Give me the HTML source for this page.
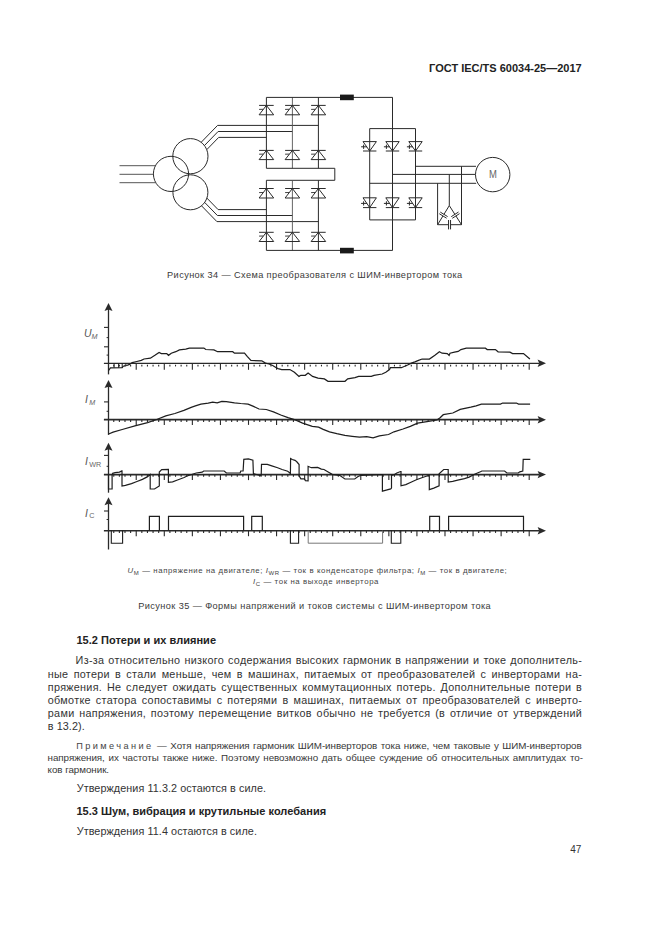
<!DOCTYPE html>
<html><head><meta charset="utf-8">
<style>
html,body{margin:0;padding:0;background:#fff;}
body{width:661px;height:935px;position:relative;overflow:hidden;font-family:"Liberation Sans",sans-serif;color:#333;}
.t,.j{position:absolute;white-space:nowrap;line-height:0;}
.j{text-align:justify;text-align-last:justify;}
.bd{letter-spacing:0.08px;}
.nt{letter-spacing:-0.05px;color:#383838;}
.nt .sp{letter-spacing:2.4px;font-size:9.2px;color:#444;}
.hb{font-weight:bold;letter-spacing:0.03px;color:#222;}
.cap{letter-spacing:0.4px;color:#3a3a3a;}
.leg{letter-spacing:0.595px;color:#444;}
.leg i{font-style:italic;}
.leg sub{font-size:6px;vertical-align:-2px;line-height:0;}
svg{position:absolute;left:0;top:0;}
</style></head><body>
<svg width="661" height="935" viewBox="0 0 661 935"><circle cx="171.0" cy="173.9" r="17.6" fill="none" stroke="#2a2a2a" stroke-width="1.0"/>
<circle cx="190.4" cy="156.2" r="17.6" fill="none" stroke="#2a2a2a" stroke-width="1.0"/>
<circle cx="190.4" cy="192.3" r="17.5" fill="none" stroke="#2a2a2a" stroke-width="1.0"/>
<line x1="119.50" y1="165.70" x2="155.43" y2="165.70" stroke="#555" stroke-width="1.0"/>
<line x1="119.50" y1="174.30" x2="153.40" y2="174.30" stroke="#555" stroke-width="1.0"/>
<line x1="119.50" y1="182.70" x2="155.76" y2="182.70" stroke="#555" stroke-width="1.0"/>
<polyline points="201.15,142.32 217.60,125.40 318.40,125.40" fill="none" stroke="#2a2a2a" stroke-width="1.0" stroke-linejoin="miter"/>
<polyline points="204.41,145.58 218.10,131.50 292.40,131.50" fill="none" stroke="#2a2a2a" stroke-width="1.0" stroke-linejoin="miter"/>
<polyline points="206.73,149.71 218.70,137.40 266.40,137.40" fill="none" stroke="#2a2a2a" stroke-width="1.0" stroke-linejoin="miter"/>
<polyline points="206.90,198.08 218.10,209.60 266.40,209.60" fill="none" stroke="#2a2a2a" stroke-width="1.0" stroke-linejoin="miter"/>
<polyline points="204.66,202.40 217.40,215.50 292.40,215.50" fill="none" stroke="#2a2a2a" stroke-width="1.0" stroke-linejoin="miter"/>
<polyline points="201.53,205.80 216.90,221.60 318.40,221.60" fill="none" stroke="#2a2a2a" stroke-width="1.0" stroke-linejoin="miter"/>
<line x1="266.40" y1="97.40" x2="266.40" y2="168.30" stroke="#2a2a2a" stroke-width="1.0"/>
<line x1="292.40" y1="97.40" x2="292.40" y2="168.30" stroke="#555" stroke-width="0.9"/>
<line x1="318.40" y1="97.40" x2="318.40" y2="168.30" stroke="#2a2a2a" stroke-width="1.0"/>
<line x1="266.40" y1="97.40" x2="392.60" y2="97.40" stroke="#2a2a2a" stroke-width="1.0"/>
<line x1="266.40" y1="168.30" x2="334.80" y2="168.30" stroke="#2a2a2a" stroke-width="1.0"/>
<line x1="334.80" y1="168.30" x2="334.80" y2="180.30" stroke="#2a2a2a" stroke-width="1.0"/>
<line x1="266.40" y1="180.30" x2="334.80" y2="180.30" stroke="#2a2a2a" stroke-width="1.0"/>
<line x1="266.40" y1="180.30" x2="266.40" y2="250.40" stroke="#2a2a2a" stroke-width="1.0"/>
<line x1="292.40" y1="180.30" x2="292.40" y2="250.40" stroke="#555" stroke-width="0.9"/>
<line x1="318.40" y1="180.30" x2="318.40" y2="250.40" stroke="#2a2a2a" stroke-width="1.0"/>
<line x1="266.40" y1="250.40" x2="392.60" y2="250.40" stroke="#2a2a2a" stroke-width="1.0"/>
<line x1="259.10" y1="105.40" x2="273.70" y2="105.40" stroke="#2a2a2a" stroke-width="1.0"/>
<polygon points="266.40,105.40 259.10,114.80 273.70,114.80" fill="none" stroke="#2a2a2a" stroke-width="1.0"/>
<line x1="259.10" y1="109.40" x2="263.20" y2="109.30" stroke="#2a2a2a" stroke-width="0.9"/>
<line x1="259.10" y1="150.40" x2="273.70" y2="150.40" stroke="#2a2a2a" stroke-width="1.0"/>
<polygon points="266.40,150.40 259.10,159.60 273.70,159.60" fill="none" stroke="#2a2a2a" stroke-width="1.0"/>
<line x1="259.10" y1="154.20" x2="263.20" y2="154.10" stroke="#2a2a2a" stroke-width="0.9"/>
<line x1="259.10" y1="188.50" x2="273.70" y2="188.50" stroke="#2a2a2a" stroke-width="1.0"/>
<polygon points="266.40,188.50 259.10,198.00 273.70,198.00" fill="none" stroke="#2a2a2a" stroke-width="1.0"/>
<line x1="259.10" y1="192.60" x2="263.20" y2="192.50" stroke="#2a2a2a" stroke-width="0.9"/>
<line x1="259.10" y1="232.30" x2="273.70" y2="232.30" stroke="#2a2a2a" stroke-width="1.0"/>
<polygon points="266.40,232.30 259.10,241.50 273.70,241.50" fill="none" stroke="#2a2a2a" stroke-width="1.0"/>
<line x1="259.10" y1="236.10" x2="263.20" y2="236.00" stroke="#2a2a2a" stroke-width="0.9"/>
<line x1="285.10" y1="105.40" x2="299.70" y2="105.40" stroke="#2a2a2a" stroke-width="1.0"/>
<polygon points="292.40,105.40 285.10,114.80 299.70,114.80" fill="none" stroke="#2a2a2a" stroke-width="1.0"/>
<line x1="285.10" y1="109.40" x2="289.20" y2="109.30" stroke="#2a2a2a" stroke-width="0.9"/>
<line x1="285.10" y1="150.40" x2="299.70" y2="150.40" stroke="#2a2a2a" stroke-width="1.0"/>
<polygon points="292.40,150.40 285.10,159.60 299.70,159.60" fill="none" stroke="#2a2a2a" stroke-width="1.0"/>
<line x1="285.10" y1="154.20" x2="289.20" y2="154.10" stroke="#2a2a2a" stroke-width="0.9"/>
<line x1="285.10" y1="188.50" x2="299.70" y2="188.50" stroke="#2a2a2a" stroke-width="1.0"/>
<polygon points="292.40,188.50 285.10,198.00 299.70,198.00" fill="none" stroke="#2a2a2a" stroke-width="1.0"/>
<line x1="285.10" y1="192.60" x2="289.20" y2="192.50" stroke="#2a2a2a" stroke-width="0.9"/>
<line x1="285.10" y1="232.30" x2="299.70" y2="232.30" stroke="#2a2a2a" stroke-width="1.0"/>
<polygon points="292.40,232.30 285.10,241.50 299.70,241.50" fill="none" stroke="#2a2a2a" stroke-width="1.0"/>
<line x1="285.10" y1="236.10" x2="289.20" y2="236.00" stroke="#2a2a2a" stroke-width="0.9"/>
<line x1="311.10" y1="105.40" x2="325.70" y2="105.40" stroke="#2a2a2a" stroke-width="1.0"/>
<polygon points="318.40,105.40 311.10,114.80 325.70,114.80" fill="none" stroke="#2a2a2a" stroke-width="1.0"/>
<line x1="311.10" y1="109.40" x2="315.20" y2="109.30" stroke="#2a2a2a" stroke-width="0.9"/>
<line x1="311.10" y1="150.40" x2="325.70" y2="150.40" stroke="#2a2a2a" stroke-width="1.0"/>
<polygon points="318.40,150.40 311.10,159.60 325.70,159.60" fill="none" stroke="#2a2a2a" stroke-width="1.0"/>
<line x1="311.10" y1="154.20" x2="315.20" y2="154.10" stroke="#2a2a2a" stroke-width="0.9"/>
<line x1="311.10" y1="188.50" x2="325.70" y2="188.50" stroke="#2a2a2a" stroke-width="1.0"/>
<polygon points="318.40,188.50 311.10,198.00 325.70,198.00" fill="none" stroke="#2a2a2a" stroke-width="1.0"/>
<line x1="311.10" y1="192.60" x2="315.20" y2="192.50" stroke="#2a2a2a" stroke-width="0.9"/>
<line x1="311.10" y1="232.30" x2="325.70" y2="232.30" stroke="#2a2a2a" stroke-width="1.0"/>
<polygon points="318.40,232.30 311.10,241.50 325.70,241.50" fill="none" stroke="#2a2a2a" stroke-width="1.0"/>
<line x1="311.10" y1="236.10" x2="315.20" y2="236.00" stroke="#2a2a2a" stroke-width="0.9"/>
<rect x="340.0" y="94.6" width="13.8" height="5.6" fill="#1a1a1a"/>
<rect x="340.0" y="247.8" width="13.8" height="5.6" fill="#1a1a1a"/>
<line x1="392.50" y1="97.40" x2="392.50" y2="128.60" stroke="#2a2a2a" stroke-width="1.0"/>
<line x1="369.70" y1="128.60" x2="415.50" y2="128.60" stroke="#2a2a2a" stroke-width="1.0"/>
<line x1="369.70" y1="219.90" x2="415.50" y2="219.90" stroke="#2a2a2a" stroke-width="1.0"/>
<line x1="392.50" y1="219.90" x2="392.50" y2="250.40" stroke="#2a2a2a" stroke-width="1.0"/>
<line x1="369.70" y1="128.60" x2="369.70" y2="219.90" stroke="#2a2a2a" stroke-width="1.0"/>
<line x1="392.50" y1="128.60" x2="392.50" y2="219.90" stroke="#2a2a2a" stroke-width="1.0"/>
<line x1="415.50" y1="128.60" x2="415.50" y2="219.90" stroke="#2a2a2a" stroke-width="1.0"/>
<line x1="363.00" y1="151.00" x2="376.40" y2="151.00" stroke="#2a2a2a" stroke-width="1.0"/>
<polygon points="369.70,151.00 363.00,141.60 376.40,141.60" fill="none" stroke="#2a2a2a" stroke-width="1.0"/>
<line x1="361.10" y1="146.80" x2="367.10" y2="146.80" stroke="#2a2a2a" stroke-width="1.0"/>
<line x1="363.60" y1="144.70" x2="363.60" y2="148.90" stroke="#2a2a2a" stroke-width="1.0"/>
<line x1="363.00" y1="207.60" x2="376.40" y2="207.60" stroke="#2a2a2a" stroke-width="1.0"/>
<polygon points="369.70,207.60 363.00,197.80 376.40,197.80" fill="none" stroke="#2a2a2a" stroke-width="1.0"/>
<line x1="361.10" y1="203.40" x2="367.10" y2="203.40" stroke="#2a2a2a" stroke-width="1.0"/>
<line x1="363.60" y1="201.30" x2="363.60" y2="205.50" stroke="#2a2a2a" stroke-width="1.0"/>
<line x1="385.80" y1="151.00" x2="399.20" y2="151.00" stroke="#2a2a2a" stroke-width="1.0"/>
<polygon points="392.50,151.00 385.80,141.60 399.20,141.60" fill="none" stroke="#2a2a2a" stroke-width="1.0"/>
<line x1="383.90" y1="146.80" x2="389.90" y2="146.80" stroke="#2a2a2a" stroke-width="1.0"/>
<line x1="386.40" y1="144.70" x2="386.40" y2="148.90" stroke="#2a2a2a" stroke-width="1.0"/>
<line x1="385.80" y1="207.60" x2="399.20" y2="207.60" stroke="#2a2a2a" stroke-width="1.0"/>
<polygon points="392.50,207.60 385.80,197.80 399.20,197.80" fill="none" stroke="#2a2a2a" stroke-width="1.0"/>
<line x1="383.90" y1="203.40" x2="389.90" y2="203.40" stroke="#2a2a2a" stroke-width="1.0"/>
<line x1="386.40" y1="201.30" x2="386.40" y2="205.50" stroke="#2a2a2a" stroke-width="1.0"/>
<line x1="408.80" y1="151.00" x2="422.20" y2="151.00" stroke="#2a2a2a" stroke-width="1.0"/>
<polygon points="415.50,151.00 408.80,141.60 422.20,141.60" fill="none" stroke="#2a2a2a" stroke-width="1.0"/>
<line x1="406.90" y1="146.80" x2="412.90" y2="146.80" stroke="#2a2a2a" stroke-width="1.0"/>
<line x1="409.40" y1="144.70" x2="409.40" y2="148.90" stroke="#2a2a2a" stroke-width="1.0"/>
<line x1="408.80" y1="207.60" x2="422.20" y2="207.60" stroke="#2a2a2a" stroke-width="1.0"/>
<polygon points="415.50,207.60 408.80,197.80 422.20,197.80" fill="none" stroke="#2a2a2a" stroke-width="1.0"/>
<line x1="406.90" y1="203.40" x2="412.90" y2="203.40" stroke="#2a2a2a" stroke-width="1.0"/>
<line x1="409.40" y1="201.30" x2="409.40" y2="205.50" stroke="#2a2a2a" stroke-width="1.0"/>
<line x1="415.50" y1="166.30" x2="476.00" y2="166.30" stroke="#2a2a2a" stroke-width="1.0"/>
<line x1="392.50" y1="174.40" x2="475.30" y2="174.40" stroke="#2a2a2a" stroke-width="1.0"/>
<line x1="369.70" y1="183.30" x2="476.20" y2="183.30" stroke="#2a2a2a" stroke-width="1.0"/>
<circle cx="492.7" cy="174.6" r="17.2" fill="none" stroke="#2a2a2a" stroke-width="1.0"/>
<text x="489.0" y="178.2" font-family="Liberation Sans" font-size="10" fill="#666" textLength="7.9" lengthAdjust="spacingAndGlyphs">M</text>
<line x1="437.60" y1="183.30" x2="437.60" y2="224.70" stroke="#2a2a2a" stroke-width="1.0"/>
<line x1="461.50" y1="166.30" x2="461.50" y2="224.70" stroke="#2a2a2a" stroke-width="1.0"/>
<line x1="449.30" y1="174.40" x2="449.30" y2="205.60" stroke="#2a2a2a" stroke-width="1.0"/>
<line x1="449.30" y1="205.60" x2="443.95" y2="214.34" stroke="#2a2a2a" stroke-width="1.0"/>
<line x1="442.95" y1="215.96" x2="437.60" y2="224.70" stroke="#2a2a2a" stroke-width="1.0"/>
<line x1="447.61" y1="216.59" x2="440.28" y2="212.09" stroke="#2a2a2a" stroke-width="1.0"/>
<line x1="446.62" y1="218.21" x2="439.29" y2="213.71" stroke="#2a2a2a" stroke-width="1.0"/>
<line x1="449.30" y1="205.60" x2="454.89" y2="214.35" stroke="#2a2a2a" stroke-width="1.0"/>
<line x1="455.91" y1="215.95" x2="461.50" y2="224.70" stroke="#2a2a2a" stroke-width="1.0"/>
<line x1="458.51" y1="212.03" x2="451.26" y2="216.66" stroke="#2a2a2a" stroke-width="1.0"/>
<line x1="459.54" y1="213.64" x2="452.29" y2="218.27" stroke="#2a2a2a" stroke-width="1.0"/>
<line x1="437.60" y1="224.70" x2="448.55" y2="224.70" stroke="#2a2a2a" stroke-width="1.0"/>
<line x1="450.55" y1="224.70" x2="461.50" y2="224.70" stroke="#2a2a2a" stroke-width="1.0"/>
<line x1="448.55" y1="220.00" x2="448.55" y2="229.40" stroke="#2a2a2a" stroke-width="1.0"/>
<line x1="450.55" y1="220.00" x2="450.55" y2="229.40" stroke="#2a2a2a" stroke-width="1.0"/>
<line x1="108.50" y1="309.00" x2="108.50" y2="374.40" stroke="#2a2a2a" stroke-width="1.3"/>
<polygon points="108.50,303.00 104.50,311.00 108.50,309.60 112.50,311.00" fill="#2a2a2a" stroke="#2a2a2a" stroke-width="0"/>
<line x1="103.90" y1="363.30" x2="539.00" y2="363.30" stroke="#2a2a2a" stroke-width="1.15"/>
<polygon points="546.00,363.30 537.60,359.60 539.20,363.30 537.60,367.00" fill="#2a2a2a" stroke="#2a2a2a" stroke-width="0"/>
<line x1="113.76" y1="364.80" x2="113.76" y2="366.40" stroke="#2a2a2a" stroke-width="1.1"/>
<line x1="119.38" y1="364.80" x2="119.38" y2="366.40" stroke="#2a2a2a" stroke-width="1.1"/>
<line x1="124.99" y1="364.80" x2="124.99" y2="366.40" stroke="#2a2a2a" stroke-width="1.1"/>
<line x1="130.61" y1="364.80" x2="130.61" y2="366.40" stroke="#2a2a2a" stroke-width="1.1"/>
<line x1="136.22" y1="363.30" x2="136.22" y2="369.80" stroke="#2a2a2a" stroke-width="1.1"/>
<line x1="141.83" y1="364.80" x2="141.83" y2="366.40" stroke="#2a2a2a" stroke-width="1.1"/>
<line x1="147.45" y1="364.80" x2="147.45" y2="366.40" stroke="#2a2a2a" stroke-width="1.1"/>
<line x1="153.06" y1="364.80" x2="153.06" y2="366.40" stroke="#2a2a2a" stroke-width="1.1"/>
<line x1="158.68" y1="364.80" x2="158.68" y2="366.40" stroke="#2a2a2a" stroke-width="1.1"/>
<line x1="164.29" y1="363.30" x2="164.29" y2="369.80" stroke="#2a2a2a" stroke-width="1.1"/>
<line x1="169.90" y1="364.80" x2="169.90" y2="366.40" stroke="#2a2a2a" stroke-width="1.1"/>
<line x1="175.52" y1="364.80" x2="175.52" y2="366.40" stroke="#2a2a2a" stroke-width="1.1"/>
<line x1="181.13" y1="364.80" x2="181.13" y2="366.40" stroke="#2a2a2a" stroke-width="1.1"/>
<line x1="186.75" y1="364.80" x2="186.75" y2="366.40" stroke="#2a2a2a" stroke-width="1.1"/>
<line x1="192.36" y1="363.30" x2="192.36" y2="369.80" stroke="#2a2a2a" stroke-width="1.1"/>
<line x1="197.97" y1="364.80" x2="197.97" y2="366.40" stroke="#2a2a2a" stroke-width="1.1"/>
<line x1="203.59" y1="364.80" x2="203.59" y2="366.40" stroke="#2a2a2a" stroke-width="1.1"/>
<line x1="209.20" y1="364.80" x2="209.20" y2="366.40" stroke="#2a2a2a" stroke-width="1.1"/>
<line x1="214.82" y1="364.80" x2="214.82" y2="366.40" stroke="#2a2a2a" stroke-width="1.1"/>
<line x1="220.43" y1="363.30" x2="220.43" y2="369.80" stroke="#2a2a2a" stroke-width="1.1"/>
<line x1="226.04" y1="364.80" x2="226.04" y2="366.40" stroke="#2a2a2a" stroke-width="1.1"/>
<line x1="231.66" y1="364.80" x2="231.66" y2="366.40" stroke="#2a2a2a" stroke-width="1.1"/>
<line x1="237.27" y1="364.80" x2="237.27" y2="366.40" stroke="#2a2a2a" stroke-width="1.1"/>
<line x1="242.89" y1="364.80" x2="242.89" y2="366.40" stroke="#2a2a2a" stroke-width="1.1"/>
<line x1="248.50" y1="363.30" x2="248.50" y2="369.80" stroke="#2a2a2a" stroke-width="1.1"/>
<line x1="254.11" y1="364.80" x2="254.11" y2="366.40" stroke="#2a2a2a" stroke-width="1.1"/>
<line x1="259.73" y1="364.80" x2="259.73" y2="366.40" stroke="#2a2a2a" stroke-width="1.1"/>
<line x1="265.34" y1="364.80" x2="265.34" y2="366.40" stroke="#2a2a2a" stroke-width="1.1"/>
<line x1="270.96" y1="364.80" x2="270.96" y2="366.40" stroke="#2a2a2a" stroke-width="1.1"/>
<line x1="276.57" y1="363.30" x2="276.57" y2="369.80" stroke="#2a2a2a" stroke-width="1.1"/>
<line x1="282.18" y1="364.80" x2="282.18" y2="366.40" stroke="#2a2a2a" stroke-width="1.1"/>
<line x1="287.80" y1="364.80" x2="287.80" y2="366.40" stroke="#2a2a2a" stroke-width="1.1"/>
<line x1="293.41" y1="364.80" x2="293.41" y2="366.40" stroke="#2a2a2a" stroke-width="1.1"/>
<line x1="299.03" y1="364.80" x2="299.03" y2="366.40" stroke="#2a2a2a" stroke-width="1.1"/>
<line x1="304.64" y1="363.30" x2="304.64" y2="369.80" stroke="#2a2a2a" stroke-width="1.1"/>
<line x1="310.25" y1="364.80" x2="310.25" y2="366.40" stroke="#2a2a2a" stroke-width="1.1"/>
<line x1="315.87" y1="364.80" x2="315.87" y2="366.40" stroke="#2a2a2a" stroke-width="1.1"/>
<line x1="321.48" y1="364.80" x2="321.48" y2="366.40" stroke="#2a2a2a" stroke-width="1.1"/>
<line x1="327.10" y1="364.80" x2="327.10" y2="366.40" stroke="#2a2a2a" stroke-width="1.1"/>
<line x1="332.71" y1="363.30" x2="332.71" y2="369.80" stroke="#2a2a2a" stroke-width="1.1"/>
<line x1="338.32" y1="364.80" x2="338.32" y2="366.40" stroke="#2a2a2a" stroke-width="1.1"/>
<line x1="343.94" y1="364.80" x2="343.94" y2="366.40" stroke="#2a2a2a" stroke-width="1.1"/>
<line x1="349.55" y1="364.80" x2="349.55" y2="366.40" stroke="#2a2a2a" stroke-width="1.1"/>
<line x1="355.17" y1="364.80" x2="355.17" y2="366.40" stroke="#2a2a2a" stroke-width="1.1"/>
<line x1="360.78" y1="363.30" x2="360.78" y2="369.80" stroke="#2a2a2a" stroke-width="1.1"/>
<line x1="366.39" y1="364.80" x2="366.39" y2="366.40" stroke="#2a2a2a" stroke-width="1.1"/>
<line x1="372.01" y1="364.80" x2="372.01" y2="366.40" stroke="#2a2a2a" stroke-width="1.1"/>
<line x1="377.62" y1="364.80" x2="377.62" y2="366.40" stroke="#2a2a2a" stroke-width="1.1"/>
<line x1="383.24" y1="364.80" x2="383.24" y2="366.40" stroke="#2a2a2a" stroke-width="1.1"/>
<line x1="388.85" y1="363.30" x2="388.85" y2="369.80" stroke="#2a2a2a" stroke-width="1.1"/>
<line x1="394.46" y1="364.80" x2="394.46" y2="366.40" stroke="#2a2a2a" stroke-width="1.1"/>
<line x1="400.08" y1="364.80" x2="400.08" y2="366.40" stroke="#2a2a2a" stroke-width="1.1"/>
<line x1="405.69" y1="364.80" x2="405.69" y2="366.40" stroke="#2a2a2a" stroke-width="1.1"/>
<line x1="411.31" y1="364.80" x2="411.31" y2="366.40" stroke="#2a2a2a" stroke-width="1.1"/>
<line x1="416.92" y1="363.30" x2="416.92" y2="369.80" stroke="#2a2a2a" stroke-width="1.1"/>
<line x1="422.53" y1="364.80" x2="422.53" y2="366.40" stroke="#2a2a2a" stroke-width="1.1"/>
<line x1="428.15" y1="364.80" x2="428.15" y2="366.40" stroke="#2a2a2a" stroke-width="1.1"/>
<line x1="433.76" y1="364.80" x2="433.76" y2="366.40" stroke="#2a2a2a" stroke-width="1.1"/>
<line x1="439.38" y1="364.80" x2="439.38" y2="366.40" stroke="#2a2a2a" stroke-width="1.1"/>
<line x1="444.99" y1="363.30" x2="444.99" y2="369.80" stroke="#2a2a2a" stroke-width="1.1"/>
<line x1="450.60" y1="364.80" x2="450.60" y2="366.40" stroke="#2a2a2a" stroke-width="1.1"/>
<line x1="456.22" y1="364.80" x2="456.22" y2="366.40" stroke="#2a2a2a" stroke-width="1.1"/>
<line x1="461.83" y1="364.80" x2="461.83" y2="366.40" stroke="#2a2a2a" stroke-width="1.1"/>
<line x1="467.45" y1="364.80" x2="467.45" y2="366.40" stroke="#2a2a2a" stroke-width="1.1"/>
<line x1="473.06" y1="363.30" x2="473.06" y2="369.80" stroke="#2a2a2a" stroke-width="1.1"/>
<line x1="478.67" y1="364.80" x2="478.67" y2="366.40" stroke="#2a2a2a" stroke-width="1.1"/>
<line x1="484.29" y1="364.80" x2="484.29" y2="366.40" stroke="#2a2a2a" stroke-width="1.1"/>
<line x1="489.90" y1="364.80" x2="489.90" y2="366.40" stroke="#2a2a2a" stroke-width="1.1"/>
<line x1="495.52" y1="364.80" x2="495.52" y2="366.40" stroke="#2a2a2a" stroke-width="1.1"/>
<line x1="501.13" y1="363.30" x2="501.13" y2="369.80" stroke="#2a2a2a" stroke-width="1.1"/>
<line x1="506.74" y1="364.80" x2="506.74" y2="366.40" stroke="#2a2a2a" stroke-width="1.1"/>
<line x1="512.36" y1="364.80" x2="512.36" y2="366.40" stroke="#2a2a2a" stroke-width="1.1"/>
<line x1="517.97" y1="364.80" x2="517.97" y2="366.40" stroke="#2a2a2a" stroke-width="1.1"/>
<line x1="523.59" y1="364.80" x2="523.59" y2="366.40" stroke="#2a2a2a" stroke-width="1.1"/>
<line x1="529.20" y1="363.30" x2="529.20" y2="369.80" stroke="#2a2a2a" stroke-width="1.1"/>
<line x1="104.00" y1="327.40" x2="108.50" y2="327.40" stroke="#2a2a2a" stroke-width="1.1"/>
<line x1="104.00" y1="346.80" x2="108.50" y2="346.80" stroke="#2a2a2a" stroke-width="1.1"/>
<line x1="106.60" y1="337.60" x2="108.50" y2="337.60" stroke="#2a2a2a" stroke-width="1.0"/>
<line x1="106.60" y1="355.10" x2="108.50" y2="355.10" stroke="#2a2a2a" stroke-width="1.0"/>
<line x1="108.50" y1="386.10" x2="108.50" y2="434.90" stroke="#2a2a2a" stroke-width="1.3"/>
<polygon points="108.50,380.10 104.50,388.10 108.50,386.70 112.50,388.10" fill="#2a2a2a" stroke="#2a2a2a" stroke-width="0"/>
<line x1="103.90" y1="419.70" x2="539.00" y2="419.70" stroke="#2a2a2a" stroke-width="1.7"/>
<polygon points="546.00,419.70 537.60,416.00 539.20,419.70 537.60,423.40" fill="#2a2a2a" stroke="#2a2a2a" stroke-width="0"/>
<line x1="113.76" y1="419.70" x2="113.76" y2="421.90" stroke="#2a2a2a" stroke-width="1.1"/>
<line x1="119.38" y1="419.70" x2="119.38" y2="421.90" stroke="#2a2a2a" stroke-width="1.1"/>
<line x1="124.99" y1="419.70" x2="124.99" y2="421.90" stroke="#2a2a2a" stroke-width="1.1"/>
<line x1="130.61" y1="419.70" x2="130.61" y2="421.90" stroke="#2a2a2a" stroke-width="1.1"/>
<line x1="136.22" y1="419.70" x2="136.22" y2="424.90" stroke="#2a2a2a" stroke-width="1.1"/>
<line x1="141.83" y1="419.70" x2="141.83" y2="421.90" stroke="#2a2a2a" stroke-width="1.1"/>
<line x1="147.45" y1="419.70" x2="147.45" y2="421.90" stroke="#2a2a2a" stroke-width="1.1"/>
<line x1="153.06" y1="419.70" x2="153.06" y2="421.90" stroke="#2a2a2a" stroke-width="1.1"/>
<line x1="158.68" y1="419.70" x2="158.68" y2="421.90" stroke="#2a2a2a" stroke-width="1.1"/>
<line x1="164.29" y1="419.70" x2="164.29" y2="424.90" stroke="#2a2a2a" stroke-width="1.1"/>
<line x1="169.90" y1="419.70" x2="169.90" y2="421.90" stroke="#2a2a2a" stroke-width="1.1"/>
<line x1="175.52" y1="419.70" x2="175.52" y2="421.90" stroke="#2a2a2a" stroke-width="1.1"/>
<line x1="181.13" y1="419.70" x2="181.13" y2="421.90" stroke="#2a2a2a" stroke-width="1.1"/>
<line x1="186.75" y1="419.70" x2="186.75" y2="421.90" stroke="#2a2a2a" stroke-width="1.1"/>
<line x1="192.36" y1="419.70" x2="192.36" y2="424.90" stroke="#2a2a2a" stroke-width="1.1"/>
<line x1="197.97" y1="419.70" x2="197.97" y2="421.90" stroke="#2a2a2a" stroke-width="1.1"/>
<line x1="203.59" y1="419.70" x2="203.59" y2="421.90" stroke="#2a2a2a" stroke-width="1.1"/>
<line x1="209.20" y1="419.70" x2="209.20" y2="421.90" stroke="#2a2a2a" stroke-width="1.1"/>
<line x1="214.82" y1="419.70" x2="214.82" y2="421.90" stroke="#2a2a2a" stroke-width="1.1"/>
<line x1="220.43" y1="419.70" x2="220.43" y2="424.90" stroke="#2a2a2a" stroke-width="1.1"/>
<line x1="226.04" y1="419.70" x2="226.04" y2="421.90" stroke="#2a2a2a" stroke-width="1.1"/>
<line x1="231.66" y1="419.70" x2="231.66" y2="421.90" stroke="#2a2a2a" stroke-width="1.1"/>
<line x1="237.27" y1="419.70" x2="237.27" y2="421.90" stroke="#2a2a2a" stroke-width="1.1"/>
<line x1="242.89" y1="419.70" x2="242.89" y2="421.90" stroke="#2a2a2a" stroke-width="1.1"/>
<line x1="248.50" y1="419.70" x2="248.50" y2="424.90" stroke="#2a2a2a" stroke-width="1.1"/>
<line x1="254.11" y1="419.70" x2="254.11" y2="421.90" stroke="#2a2a2a" stroke-width="1.1"/>
<line x1="259.73" y1="419.70" x2="259.73" y2="421.90" stroke="#2a2a2a" stroke-width="1.1"/>
<line x1="265.34" y1="419.70" x2="265.34" y2="421.90" stroke="#2a2a2a" stroke-width="1.1"/>
<line x1="270.96" y1="419.70" x2="270.96" y2="421.90" stroke="#2a2a2a" stroke-width="1.1"/>
<line x1="276.57" y1="419.70" x2="276.57" y2="424.90" stroke="#2a2a2a" stroke-width="1.1"/>
<line x1="282.18" y1="419.70" x2="282.18" y2="421.90" stroke="#2a2a2a" stroke-width="1.1"/>
<line x1="287.80" y1="419.70" x2="287.80" y2="421.90" stroke="#2a2a2a" stroke-width="1.1"/>
<line x1="293.41" y1="419.70" x2="293.41" y2="421.90" stroke="#2a2a2a" stroke-width="1.1"/>
<line x1="299.03" y1="419.70" x2="299.03" y2="421.90" stroke="#2a2a2a" stroke-width="1.1"/>
<line x1="304.64" y1="419.70" x2="304.64" y2="424.90" stroke="#2a2a2a" stroke-width="1.1"/>
<line x1="310.25" y1="419.70" x2="310.25" y2="421.90" stroke="#2a2a2a" stroke-width="1.1"/>
<line x1="315.87" y1="419.70" x2="315.87" y2="421.90" stroke="#2a2a2a" stroke-width="1.1"/>
<line x1="321.48" y1="419.70" x2="321.48" y2="421.90" stroke="#2a2a2a" stroke-width="1.1"/>
<line x1="327.10" y1="419.70" x2="327.10" y2="421.90" stroke="#2a2a2a" stroke-width="1.1"/>
<line x1="332.71" y1="419.70" x2="332.71" y2="424.90" stroke="#2a2a2a" stroke-width="1.1"/>
<line x1="338.32" y1="419.70" x2="338.32" y2="421.90" stroke="#2a2a2a" stroke-width="1.1"/>
<line x1="343.94" y1="419.70" x2="343.94" y2="421.90" stroke="#2a2a2a" stroke-width="1.1"/>
<line x1="349.55" y1="419.70" x2="349.55" y2="421.90" stroke="#2a2a2a" stroke-width="1.1"/>
<line x1="355.17" y1="419.70" x2="355.17" y2="421.90" stroke="#2a2a2a" stroke-width="1.1"/>
<line x1="360.78" y1="419.70" x2="360.78" y2="424.90" stroke="#2a2a2a" stroke-width="1.1"/>
<line x1="366.39" y1="419.70" x2="366.39" y2="421.90" stroke="#2a2a2a" stroke-width="1.1"/>
<line x1="372.01" y1="419.70" x2="372.01" y2="421.90" stroke="#2a2a2a" stroke-width="1.1"/>
<line x1="377.62" y1="419.70" x2="377.62" y2="421.90" stroke="#2a2a2a" stroke-width="1.1"/>
<line x1="383.24" y1="419.70" x2="383.24" y2="421.90" stroke="#2a2a2a" stroke-width="1.1"/>
<line x1="388.85" y1="419.70" x2="388.85" y2="424.90" stroke="#2a2a2a" stroke-width="1.1"/>
<line x1="394.46" y1="419.70" x2="394.46" y2="421.90" stroke="#2a2a2a" stroke-width="1.1"/>
<line x1="400.08" y1="419.70" x2="400.08" y2="421.90" stroke="#2a2a2a" stroke-width="1.1"/>
<line x1="405.69" y1="419.70" x2="405.69" y2="421.90" stroke="#2a2a2a" stroke-width="1.1"/>
<line x1="411.31" y1="419.70" x2="411.31" y2="421.90" stroke="#2a2a2a" stroke-width="1.1"/>
<line x1="416.92" y1="419.70" x2="416.92" y2="424.90" stroke="#2a2a2a" stroke-width="1.1"/>
<line x1="422.53" y1="419.70" x2="422.53" y2="421.90" stroke="#2a2a2a" stroke-width="1.1"/>
<line x1="428.15" y1="419.70" x2="428.15" y2="421.90" stroke="#2a2a2a" stroke-width="1.1"/>
<line x1="433.76" y1="419.70" x2="433.76" y2="421.90" stroke="#2a2a2a" stroke-width="1.1"/>
<line x1="439.38" y1="419.70" x2="439.38" y2="421.90" stroke="#2a2a2a" stroke-width="1.1"/>
<line x1="444.99" y1="419.70" x2="444.99" y2="424.90" stroke="#2a2a2a" stroke-width="1.1"/>
<line x1="450.60" y1="419.70" x2="450.60" y2="421.90" stroke="#2a2a2a" stroke-width="1.1"/>
<line x1="456.22" y1="419.70" x2="456.22" y2="421.90" stroke="#2a2a2a" stroke-width="1.1"/>
<line x1="461.83" y1="419.70" x2="461.83" y2="421.90" stroke="#2a2a2a" stroke-width="1.1"/>
<line x1="467.45" y1="419.70" x2="467.45" y2="421.90" stroke="#2a2a2a" stroke-width="1.1"/>
<line x1="473.06" y1="419.70" x2="473.06" y2="424.90" stroke="#2a2a2a" stroke-width="1.1"/>
<line x1="478.67" y1="419.70" x2="478.67" y2="421.90" stroke="#2a2a2a" stroke-width="1.1"/>
<line x1="484.29" y1="419.70" x2="484.29" y2="421.90" stroke="#2a2a2a" stroke-width="1.1"/>
<line x1="489.90" y1="419.70" x2="489.90" y2="421.90" stroke="#2a2a2a" stroke-width="1.1"/>
<line x1="495.52" y1="419.70" x2="495.52" y2="421.90" stroke="#2a2a2a" stroke-width="1.1"/>
<line x1="501.13" y1="419.70" x2="501.13" y2="424.90" stroke="#2a2a2a" stroke-width="1.1"/>
<line x1="506.74" y1="419.70" x2="506.74" y2="421.90" stroke="#2a2a2a" stroke-width="1.1"/>
<line x1="512.36" y1="419.70" x2="512.36" y2="421.90" stroke="#2a2a2a" stroke-width="1.1"/>
<line x1="517.97" y1="419.70" x2="517.97" y2="421.90" stroke="#2a2a2a" stroke-width="1.1"/>
<line x1="523.59" y1="419.70" x2="523.59" y2="421.90" stroke="#2a2a2a" stroke-width="1.1"/>
<line x1="529.20" y1="419.70" x2="529.20" y2="424.90" stroke="#2a2a2a" stroke-width="1.1"/>
<line x1="104.00" y1="401.90" x2="108.50" y2="401.90" stroke="#2a2a2a" stroke-width="1.1"/>
<line x1="106.60" y1="411.30" x2="108.50" y2="411.30" stroke="#2a2a2a" stroke-width="1.0"/>
<line x1="108.50" y1="448.70" x2="108.50" y2="492.70" stroke="#2a2a2a" stroke-width="1.3"/>
<polygon points="108.50,442.70 104.50,450.70 108.50,449.30 112.50,450.70" fill="#2a2a2a" stroke="#2a2a2a" stroke-width="0"/>
<line x1="103.90" y1="474.60" x2="539.00" y2="474.60" stroke="#2a2a2a" stroke-width="1.6"/>
<polygon points="546.00,474.60 537.60,470.90 539.20,474.60 537.60,478.30" fill="#2a2a2a" stroke="#2a2a2a" stroke-width="0"/>
<line x1="113.76" y1="474.60" x2="113.76" y2="476.80" stroke="#2a2a2a" stroke-width="1.1"/>
<line x1="119.38" y1="474.60" x2="119.38" y2="476.80" stroke="#2a2a2a" stroke-width="1.1"/>
<line x1="124.99" y1="474.60" x2="124.99" y2="476.80" stroke="#2a2a2a" stroke-width="1.1"/>
<line x1="130.61" y1="474.60" x2="130.61" y2="476.80" stroke="#2a2a2a" stroke-width="1.1"/>
<line x1="136.22" y1="474.60" x2="136.22" y2="480.10" stroke="#2a2a2a" stroke-width="1.1"/>
<line x1="141.83" y1="474.60" x2="141.83" y2="476.80" stroke="#2a2a2a" stroke-width="1.1"/>
<line x1="147.45" y1="474.60" x2="147.45" y2="476.80" stroke="#2a2a2a" stroke-width="1.1"/>
<line x1="153.06" y1="474.60" x2="153.06" y2="476.80" stroke="#2a2a2a" stroke-width="1.1"/>
<line x1="158.68" y1="474.60" x2="158.68" y2="476.80" stroke="#2a2a2a" stroke-width="1.1"/>
<line x1="164.29" y1="474.60" x2="164.29" y2="480.10" stroke="#2a2a2a" stroke-width="1.1"/>
<line x1="169.90" y1="474.60" x2="169.90" y2="476.80" stroke="#2a2a2a" stroke-width="1.1"/>
<line x1="175.52" y1="474.60" x2="175.52" y2="476.80" stroke="#2a2a2a" stroke-width="1.1"/>
<line x1="181.13" y1="474.60" x2="181.13" y2="476.80" stroke="#2a2a2a" stroke-width="1.1"/>
<line x1="186.75" y1="474.60" x2="186.75" y2="476.80" stroke="#2a2a2a" stroke-width="1.1"/>
<line x1="192.36" y1="474.60" x2="192.36" y2="480.10" stroke="#2a2a2a" stroke-width="1.1"/>
<line x1="197.97" y1="474.60" x2="197.97" y2="476.80" stroke="#2a2a2a" stroke-width="1.1"/>
<line x1="203.59" y1="474.60" x2="203.59" y2="476.80" stroke="#2a2a2a" stroke-width="1.1"/>
<line x1="209.20" y1="474.60" x2="209.20" y2="476.80" stroke="#2a2a2a" stroke-width="1.1"/>
<line x1="214.82" y1="474.60" x2="214.82" y2="476.80" stroke="#2a2a2a" stroke-width="1.1"/>
<line x1="220.43" y1="474.60" x2="220.43" y2="480.10" stroke="#2a2a2a" stroke-width="1.1"/>
<line x1="226.04" y1="474.60" x2="226.04" y2="476.80" stroke="#2a2a2a" stroke-width="1.1"/>
<line x1="231.66" y1="474.60" x2="231.66" y2="476.80" stroke="#2a2a2a" stroke-width="1.1"/>
<line x1="237.27" y1="474.60" x2="237.27" y2="476.80" stroke="#2a2a2a" stroke-width="1.1"/>
<line x1="242.89" y1="474.60" x2="242.89" y2="476.80" stroke="#2a2a2a" stroke-width="1.1"/>
<line x1="248.50" y1="474.60" x2="248.50" y2="480.10" stroke="#2a2a2a" stroke-width="1.1"/>
<line x1="254.11" y1="474.60" x2="254.11" y2="476.80" stroke="#2a2a2a" stroke-width="1.1"/>
<line x1="259.73" y1="474.60" x2="259.73" y2="476.80" stroke="#2a2a2a" stroke-width="1.1"/>
<line x1="265.34" y1="474.60" x2="265.34" y2="476.80" stroke="#2a2a2a" stroke-width="1.1"/>
<line x1="270.96" y1="474.60" x2="270.96" y2="476.80" stroke="#2a2a2a" stroke-width="1.1"/>
<line x1="276.57" y1="474.60" x2="276.57" y2="480.10" stroke="#2a2a2a" stroke-width="1.1"/>
<line x1="282.18" y1="474.60" x2="282.18" y2="476.80" stroke="#2a2a2a" stroke-width="1.1"/>
<line x1="287.80" y1="474.60" x2="287.80" y2="476.80" stroke="#2a2a2a" stroke-width="1.1"/>
<line x1="293.41" y1="474.60" x2="293.41" y2="476.80" stroke="#2a2a2a" stroke-width="1.1"/>
<line x1="299.03" y1="474.60" x2="299.03" y2="476.80" stroke="#2a2a2a" stroke-width="1.1"/>
<line x1="304.64" y1="474.60" x2="304.64" y2="480.10" stroke="#2a2a2a" stroke-width="1.1"/>
<line x1="310.25" y1="474.60" x2="310.25" y2="476.80" stroke="#2a2a2a" stroke-width="1.1"/>
<line x1="315.87" y1="474.60" x2="315.87" y2="476.80" stroke="#2a2a2a" stroke-width="1.1"/>
<line x1="321.48" y1="474.60" x2="321.48" y2="476.80" stroke="#2a2a2a" stroke-width="1.1"/>
<line x1="327.10" y1="474.60" x2="327.10" y2="476.80" stroke="#2a2a2a" stroke-width="1.1"/>
<line x1="332.71" y1="474.60" x2="332.71" y2="480.10" stroke="#2a2a2a" stroke-width="1.1"/>
<line x1="338.32" y1="474.60" x2="338.32" y2="476.80" stroke="#2a2a2a" stroke-width="1.1"/>
<line x1="343.94" y1="474.60" x2="343.94" y2="476.80" stroke="#2a2a2a" stroke-width="1.1"/>
<line x1="349.55" y1="474.60" x2="349.55" y2="476.80" stroke="#2a2a2a" stroke-width="1.1"/>
<line x1="355.17" y1="474.60" x2="355.17" y2="476.80" stroke="#2a2a2a" stroke-width="1.1"/>
<line x1="360.78" y1="474.60" x2="360.78" y2="480.10" stroke="#2a2a2a" stroke-width="1.1"/>
<line x1="366.39" y1="474.60" x2="366.39" y2="476.80" stroke="#2a2a2a" stroke-width="1.1"/>
<line x1="372.01" y1="474.60" x2="372.01" y2="476.80" stroke="#2a2a2a" stroke-width="1.1"/>
<line x1="377.62" y1="474.60" x2="377.62" y2="476.80" stroke="#2a2a2a" stroke-width="1.1"/>
<line x1="383.24" y1="474.60" x2="383.24" y2="476.80" stroke="#2a2a2a" stroke-width="1.1"/>
<line x1="388.85" y1="474.60" x2="388.85" y2="480.10" stroke="#2a2a2a" stroke-width="1.1"/>
<line x1="394.46" y1="474.60" x2="394.46" y2="476.80" stroke="#2a2a2a" stroke-width="1.1"/>
<line x1="400.08" y1="474.60" x2="400.08" y2="476.80" stroke="#2a2a2a" stroke-width="1.1"/>
<line x1="405.69" y1="474.60" x2="405.69" y2="476.80" stroke="#2a2a2a" stroke-width="1.1"/>
<line x1="411.31" y1="474.60" x2="411.31" y2="476.80" stroke="#2a2a2a" stroke-width="1.1"/>
<line x1="416.92" y1="474.60" x2="416.92" y2="480.10" stroke="#2a2a2a" stroke-width="1.1"/>
<line x1="422.53" y1="474.60" x2="422.53" y2="476.80" stroke="#2a2a2a" stroke-width="1.1"/>
<line x1="428.15" y1="474.60" x2="428.15" y2="476.80" stroke="#2a2a2a" stroke-width="1.1"/>
<line x1="433.76" y1="474.60" x2="433.76" y2="476.80" stroke="#2a2a2a" stroke-width="1.1"/>
<line x1="439.38" y1="474.60" x2="439.38" y2="476.80" stroke="#2a2a2a" stroke-width="1.1"/>
<line x1="444.99" y1="474.60" x2="444.99" y2="480.10" stroke="#2a2a2a" stroke-width="1.1"/>
<line x1="450.60" y1="474.60" x2="450.60" y2="476.80" stroke="#2a2a2a" stroke-width="1.1"/>
<line x1="456.22" y1="474.60" x2="456.22" y2="476.80" stroke="#2a2a2a" stroke-width="1.1"/>
<line x1="461.83" y1="474.60" x2="461.83" y2="476.80" stroke="#2a2a2a" stroke-width="1.1"/>
<line x1="467.45" y1="474.60" x2="467.45" y2="476.80" stroke="#2a2a2a" stroke-width="1.1"/>
<line x1="473.06" y1="474.60" x2="473.06" y2="480.10" stroke="#2a2a2a" stroke-width="1.1"/>
<line x1="478.67" y1="474.60" x2="478.67" y2="476.80" stroke="#2a2a2a" stroke-width="1.1"/>
<line x1="484.29" y1="474.60" x2="484.29" y2="476.80" stroke="#2a2a2a" stroke-width="1.1"/>
<line x1="489.90" y1="474.60" x2="489.90" y2="476.80" stroke="#2a2a2a" stroke-width="1.1"/>
<line x1="495.52" y1="474.60" x2="495.52" y2="476.80" stroke="#2a2a2a" stroke-width="1.1"/>
<line x1="501.13" y1="474.60" x2="501.13" y2="480.10" stroke="#2a2a2a" stroke-width="1.1"/>
<line x1="506.74" y1="474.60" x2="506.74" y2="476.80" stroke="#2a2a2a" stroke-width="1.1"/>
<line x1="512.36" y1="474.60" x2="512.36" y2="476.80" stroke="#2a2a2a" stroke-width="1.1"/>
<line x1="517.97" y1="474.60" x2="517.97" y2="476.80" stroke="#2a2a2a" stroke-width="1.1"/>
<line x1="523.59" y1="474.60" x2="523.59" y2="476.80" stroke="#2a2a2a" stroke-width="1.1"/>
<line x1="529.20" y1="474.60" x2="529.20" y2="480.10" stroke="#2a2a2a" stroke-width="1.1"/>
<line x1="104.00" y1="455.40" x2="108.50" y2="455.40" stroke="#2a2a2a" stroke-width="1.1"/>
<line x1="106.60" y1="466.30" x2="108.50" y2="466.30" stroke="#2a2a2a" stroke-width="1.0"/>
<line x1="108.50" y1="503.20" x2="108.50" y2="549.50" stroke="#2a2a2a" stroke-width="1.3"/>
<polygon points="108.50,497.20 104.50,505.20 108.50,503.80 112.50,505.20" fill="#2a2a2a" stroke="#2a2a2a" stroke-width="0"/>
<line x1="103.90" y1="530.70" x2="539.00" y2="530.70" stroke="#2a2a2a" stroke-width="1.6"/>
<polygon points="546.00,530.70 537.60,527.00 539.20,530.70 537.60,534.40" fill="#2a2a2a" stroke="#2a2a2a" stroke-width="0"/>
<line x1="113.76" y1="530.70" x2="113.76" y2="532.90" stroke="#2a2a2a" stroke-width="1.1"/>
<line x1="119.38" y1="530.70" x2="119.38" y2="532.90" stroke="#2a2a2a" stroke-width="1.1"/>
<line x1="124.99" y1="530.70" x2="124.99" y2="532.90" stroke="#2a2a2a" stroke-width="1.1"/>
<line x1="130.61" y1="530.70" x2="130.61" y2="532.90" stroke="#2a2a2a" stroke-width="1.1"/>
<line x1="136.22" y1="530.70" x2="136.22" y2="536.20" stroke="#2a2a2a" stroke-width="1.1"/>
<line x1="141.83" y1="530.70" x2="141.83" y2="532.90" stroke="#2a2a2a" stroke-width="1.1"/>
<line x1="147.45" y1="530.70" x2="147.45" y2="532.90" stroke="#2a2a2a" stroke-width="1.1"/>
<line x1="153.06" y1="530.70" x2="153.06" y2="532.90" stroke="#2a2a2a" stroke-width="1.1"/>
<line x1="158.68" y1="530.70" x2="158.68" y2="532.90" stroke="#2a2a2a" stroke-width="1.1"/>
<line x1="164.29" y1="530.70" x2="164.29" y2="536.20" stroke="#2a2a2a" stroke-width="1.1"/>
<line x1="169.90" y1="530.70" x2="169.90" y2="532.90" stroke="#2a2a2a" stroke-width="1.1"/>
<line x1="175.52" y1="530.70" x2="175.52" y2="532.90" stroke="#2a2a2a" stroke-width="1.1"/>
<line x1="181.13" y1="530.70" x2="181.13" y2="532.90" stroke="#2a2a2a" stroke-width="1.1"/>
<line x1="186.75" y1="530.70" x2="186.75" y2="532.90" stroke="#2a2a2a" stroke-width="1.1"/>
<line x1="192.36" y1="530.70" x2="192.36" y2="536.20" stroke="#2a2a2a" stroke-width="1.1"/>
<line x1="197.97" y1="530.70" x2="197.97" y2="532.90" stroke="#2a2a2a" stroke-width="1.1"/>
<line x1="203.59" y1="530.70" x2="203.59" y2="532.90" stroke="#2a2a2a" stroke-width="1.1"/>
<line x1="209.20" y1="530.70" x2="209.20" y2="532.90" stroke="#2a2a2a" stroke-width="1.1"/>
<line x1="214.82" y1="530.70" x2="214.82" y2="532.90" stroke="#2a2a2a" stroke-width="1.1"/>
<line x1="220.43" y1="530.70" x2="220.43" y2="536.20" stroke="#2a2a2a" stroke-width="1.1"/>
<line x1="226.04" y1="530.70" x2="226.04" y2="532.90" stroke="#2a2a2a" stroke-width="1.1"/>
<line x1="231.66" y1="530.70" x2="231.66" y2="532.90" stroke="#2a2a2a" stroke-width="1.1"/>
<line x1="237.27" y1="530.70" x2="237.27" y2="532.90" stroke="#2a2a2a" stroke-width="1.1"/>
<line x1="242.89" y1="530.70" x2="242.89" y2="532.90" stroke="#2a2a2a" stroke-width="1.1"/>
<line x1="248.50" y1="530.70" x2="248.50" y2="536.20" stroke="#2a2a2a" stroke-width="1.1"/>
<line x1="254.11" y1="530.70" x2="254.11" y2="532.90" stroke="#2a2a2a" stroke-width="1.1"/>
<line x1="259.73" y1="530.70" x2="259.73" y2="532.90" stroke="#2a2a2a" stroke-width="1.1"/>
<line x1="265.34" y1="530.70" x2="265.34" y2="532.90" stroke="#2a2a2a" stroke-width="1.1"/>
<line x1="270.96" y1="530.70" x2="270.96" y2="532.90" stroke="#2a2a2a" stroke-width="1.1"/>
<line x1="276.57" y1="530.70" x2="276.57" y2="536.20" stroke="#2a2a2a" stroke-width="1.1"/>
<line x1="282.18" y1="530.70" x2="282.18" y2="532.90" stroke="#2a2a2a" stroke-width="1.1"/>
<line x1="287.80" y1="530.70" x2="287.80" y2="532.90" stroke="#2a2a2a" stroke-width="1.1"/>
<line x1="293.41" y1="530.70" x2="293.41" y2="532.90" stroke="#2a2a2a" stroke-width="1.1"/>
<line x1="299.03" y1="530.70" x2="299.03" y2="532.90" stroke="#2a2a2a" stroke-width="1.1"/>
<line x1="304.64" y1="530.70" x2="304.64" y2="536.20" stroke="#2a2a2a" stroke-width="1.1"/>
<line x1="310.25" y1="530.70" x2="310.25" y2="532.90" stroke="#2a2a2a" stroke-width="1.1"/>
<line x1="315.87" y1="530.70" x2="315.87" y2="532.90" stroke="#2a2a2a" stroke-width="1.1"/>
<line x1="321.48" y1="530.70" x2="321.48" y2="532.90" stroke="#2a2a2a" stroke-width="1.1"/>
<line x1="327.10" y1="530.70" x2="327.10" y2="532.90" stroke="#2a2a2a" stroke-width="1.1"/>
<line x1="332.71" y1="530.70" x2="332.71" y2="536.20" stroke="#2a2a2a" stroke-width="1.1"/>
<line x1="338.32" y1="530.70" x2="338.32" y2="532.90" stroke="#2a2a2a" stroke-width="1.1"/>
<line x1="343.94" y1="530.70" x2="343.94" y2="532.90" stroke="#2a2a2a" stroke-width="1.1"/>
<line x1="349.55" y1="530.70" x2="349.55" y2="532.90" stroke="#2a2a2a" stroke-width="1.1"/>
<line x1="355.17" y1="530.70" x2="355.17" y2="532.90" stroke="#2a2a2a" stroke-width="1.1"/>
<line x1="360.78" y1="530.70" x2="360.78" y2="536.20" stroke="#2a2a2a" stroke-width="1.1"/>
<line x1="366.39" y1="530.70" x2="366.39" y2="532.90" stroke="#2a2a2a" stroke-width="1.1"/>
<line x1="372.01" y1="530.70" x2="372.01" y2="532.90" stroke="#2a2a2a" stroke-width="1.1"/>
<line x1="377.62" y1="530.70" x2="377.62" y2="532.90" stroke="#2a2a2a" stroke-width="1.1"/>
<line x1="383.24" y1="530.70" x2="383.24" y2="532.90" stroke="#2a2a2a" stroke-width="1.1"/>
<line x1="388.85" y1="530.70" x2="388.85" y2="536.20" stroke="#2a2a2a" stroke-width="1.1"/>
<line x1="394.46" y1="530.70" x2="394.46" y2="532.90" stroke="#2a2a2a" stroke-width="1.1"/>
<line x1="400.08" y1="530.70" x2="400.08" y2="532.90" stroke="#2a2a2a" stroke-width="1.1"/>
<line x1="405.69" y1="530.70" x2="405.69" y2="532.90" stroke="#2a2a2a" stroke-width="1.1"/>
<line x1="411.31" y1="530.70" x2="411.31" y2="532.90" stroke="#2a2a2a" stroke-width="1.1"/>
<line x1="416.92" y1="530.70" x2="416.92" y2="536.20" stroke="#2a2a2a" stroke-width="1.1"/>
<line x1="422.53" y1="530.70" x2="422.53" y2="532.90" stroke="#2a2a2a" stroke-width="1.1"/>
<line x1="428.15" y1="530.70" x2="428.15" y2="532.90" stroke="#2a2a2a" stroke-width="1.1"/>
<line x1="433.76" y1="530.70" x2="433.76" y2="532.90" stroke="#2a2a2a" stroke-width="1.1"/>
<line x1="439.38" y1="530.70" x2="439.38" y2="532.90" stroke="#2a2a2a" stroke-width="1.1"/>
<line x1="444.99" y1="530.70" x2="444.99" y2="536.20" stroke="#2a2a2a" stroke-width="1.1"/>
<line x1="450.60" y1="530.70" x2="450.60" y2="532.90" stroke="#2a2a2a" stroke-width="1.1"/>
<line x1="456.22" y1="530.70" x2="456.22" y2="532.90" stroke="#2a2a2a" stroke-width="1.1"/>
<line x1="461.83" y1="530.70" x2="461.83" y2="532.90" stroke="#2a2a2a" stroke-width="1.1"/>
<line x1="467.45" y1="530.70" x2="467.45" y2="532.90" stroke="#2a2a2a" stroke-width="1.1"/>
<line x1="473.06" y1="530.70" x2="473.06" y2="536.20" stroke="#2a2a2a" stroke-width="1.1"/>
<line x1="478.67" y1="530.70" x2="478.67" y2="532.90" stroke="#2a2a2a" stroke-width="1.1"/>
<line x1="484.29" y1="530.70" x2="484.29" y2="532.90" stroke="#2a2a2a" stroke-width="1.1"/>
<line x1="489.90" y1="530.70" x2="489.90" y2="532.90" stroke="#2a2a2a" stroke-width="1.1"/>
<line x1="495.52" y1="530.70" x2="495.52" y2="532.90" stroke="#2a2a2a" stroke-width="1.1"/>
<line x1="501.13" y1="530.70" x2="501.13" y2="536.20" stroke="#2a2a2a" stroke-width="1.1"/>
<line x1="506.74" y1="530.70" x2="506.74" y2="532.90" stroke="#2a2a2a" stroke-width="1.1"/>
<line x1="512.36" y1="530.70" x2="512.36" y2="532.90" stroke="#2a2a2a" stroke-width="1.1"/>
<line x1="517.97" y1="530.70" x2="517.97" y2="532.90" stroke="#2a2a2a" stroke-width="1.1"/>
<line x1="523.59" y1="530.70" x2="523.59" y2="532.90" stroke="#2a2a2a" stroke-width="1.1"/>
<line x1="529.20" y1="530.70" x2="529.20" y2="536.20" stroke="#2a2a2a" stroke-width="1.1"/>
<line x1="104.00" y1="511.00" x2="108.50" y2="511.00" stroke="#2a2a2a" stroke-width="1.1"/>
<line x1="106.60" y1="519.50" x2="108.50" y2="519.50" stroke="#2a2a2a" stroke-width="1.0"/>
<polyline points="108.60,370.50 110.40,367.90 122.20,367.70 123.20,366.20 126.80,365.50 129.50,364.40 132.20,362.60 136.80,361.50 141.30,360.40 144.00,359.00 150.40,358.20 154.90,355.30 159.10,352.40 161.30,353.50 166.70,353.50 168.50,355.30 171.30,353.20 175.80,351.70 179.40,349.90 185.80,349.20 189.40,348.10 203.90,348.10 205.80,349.50 213.90,349.90 217.60,351.70 232.70,351.70 234.50,353.20 244.50,353.20 247.20,356.40 250.90,360.40 261.80,360.80 265.40,363.10 269.00,364.00 272.70,365.50 276.30,367.70 278.10,368.60 281.70,369.50 289.90,369.50 294.40,372.20 299.00,376.40 300.80,375.30 305.30,375.30 308.10,373.10 312.60,376.40 318.00,378.20 324.40,378.90 328.00,381.30 345.00,381.30 347.70,378.90 355.00,377.70 358.60,376.40 371.30,376.40 374.00,375.30 382.20,374.00 385.80,372.20 389.50,369.50 390.40,367.70 401.30,367.70 407.60,365.00 411.30,363.10 414.90,361.90 418.50,360.40 422.10,359.00 429.40,359.00 434.90,355.30 439.40,351.70 442.10,353.20 447.30,353.60 449.10,355.40 450.00,353.20 454.50,352.10 458.20,351.40 460.90,349.60 466.30,348.20 485.40,348.20 487.20,349.60 495.40,349.60 498.10,351.80 509.90,352.10 512.60,353.60 523.50,353.60 529.90,359.00" fill="none" stroke="#1e1e1e" stroke-width="1.25" stroke-linejoin="miter"/>
<line x1="114.10" y1="363.30" x2="114.10" y2="367.70" stroke="#1e1e1e" stroke-width="1.0"/>
<line x1="118.60" y1="363.30" x2="118.60" y2="367.70" stroke="#1e1e1e" stroke-width="1.0"/>
<line x1="122.20" y1="363.30" x2="122.20" y2="367.70" stroke="#1e1e1e" stroke-width="1.0"/>
<line x1="125.90" y1="363.30" x2="125.90" y2="365.60" stroke="#1e1e1e" stroke-width="1.0"/>
<polyline points="108.60,434.00 113.10,432.20 122.20,429.50 134.90,425.80 147.60,422.60 156.70,419.50 165.80,415.80 174.90,413.50 183.90,410.40 191.20,407.30 195.40,405.90 200.90,404.10 208.20,403.20 212.70,402.20 217.20,402.80 221.80,401.30 226.30,401.70 234.50,402.80 240.80,403.50 248.10,404.10 253.50,406.40 259.00,409.00 266.30,409.50 273.50,411.90 280.80,415.00 288.00,417.70 295.30,419.90 302.60,423.10 312.30,426.30 318.60,427.20 323.20,429.40 329.50,431.80 336.80,433.60 344.90,435.40 352.20,436.30 359.50,437.20 366.70,436.70 373.10,437.80 379.40,435.90 388.50,434.50 394.00,431.80 403.00,429.00 410.30,426.30 417.60,423.20 428.50,421.40 436.90,420.00 440.10,417.80 443.30,414.70 452.80,413.00 460.20,409.40 470.80,407.20 476.10,405.80 481.40,404.10 500.50,404.10 502.60,403.00 516.40,403.00 518.50,404.10 530.10,404.10" fill="none" stroke="#1e1e1e" stroke-width="1.25" stroke-linejoin="miter"/>
<polyline points="108.50,474.60 108.50,489.00 112.10,489.00 112.10,474.80 112.70,473.30 115.10,472.70 119.40,472.10 121.80,470.90 122.00,470.90 122.00,486.00 125.40,485.40 131.50,483.60 136.30,481.80 142.40,479.40 147.20,476.90 150.20,474.50 150.20,489.00 154.50,489.00 159.30,486.00 159.30,472.10 161.70,469.70 168.40,469.40 168.40,482.40 172.60,481.80 177.50,480.00 184.10,477.50 187.10,476.00 191.60,474.50 196.20,473.00 202.20,472.20 203.70,471.00 224.20,471.00 226.40,473.00 240.10,473.00 240.80,471.00 243.10,471.00 243.80,459.40 248.40,458.90 252.90,460.10 253.40,473.70 256.70,474.50 261.20,476.00 261.50,464.40 267.30,464.40 271.80,465.90 277.60,467.70 282.10,469.50 287.70,471.30 290.00,473.10 290.40,474.30 290.60,458.60 292.30,459.50 295.00,460.40 296.80,461.80 299.10,464.50 299.10,475.90 300.90,478.90 304.50,478.90 305.40,480.70 308.10,480.90 308.10,466.30 311.30,467.70 317.70,467.40 321.30,469.10 324.00,469.50 328.60,472.20 332.20,474.30 339.60,475.30 344.90,479.00 354.70,479.00 357.70,476.80 360.80,475.30 382.40,474.50 382.40,491.10 386.20,490.10 390.70,488.90 391.50,488.10 391.50,475.30 394.50,474.50 396.80,473.00 400.60,471.50 401.00,471.50 401.00,485.80 405.80,484.60 410.40,482.50 416.40,479.80 422.50,477.50 427.00,476.00 429.30,475.30 429.30,489.60 433.80,488.10 439.10,485.80 439.10,473.70 443.70,469.50 448.20,469.50 448.20,482.10 452.70,481.30 458.80,479.80 464.50,478.60 469.10,477.10 475.10,474.00 480.40,471.80 481.90,471.00 504.60,471.00 506.90,473.00 518.20,473.00 519.80,471.80 522.80,471.00 523.20,459.40 530.30,459.40" fill="none" stroke="#1e1e1e" stroke-width="1.2" stroke-linejoin="miter"/>
<polyline points="111.30,530.60 111.30,543.20 122.60,543.20 122.60,530.60" fill="none" stroke="#1e1e1e" stroke-width="1.1" stroke-linejoin="miter"/>
<polyline points="290.40,530.60 290.40,543.20 298.60,543.20 298.60,530.60" fill="none" stroke="#1e1e1e" stroke-width="1.1" stroke-linejoin="miter"/>
<polyline points="308.20,530.60 308.20,543.20 382.60,543.20 382.60,530.60" fill="none" stroke="#777" stroke-width="1.0" stroke-linejoin="miter"/>
<polyline points="391.30,530.60 391.30,543.20 400.80,543.20 400.80,530.60" fill="none" stroke="#1e1e1e" stroke-width="1.1" stroke-linejoin="miter"/>
<polyline points="149.40,530.60 149.40,516.40 159.40,516.40 159.40,530.60" fill="none" stroke="#1e1e1e" stroke-width="1.2" stroke-linejoin="miter"/>
<polyline points="168.50,530.60 168.50,516.40 243.60,516.40 243.60,530.60" fill="none" stroke="#1e1e1e" stroke-width="1.2" stroke-linejoin="miter"/>
<polyline points="251.70,530.60 251.70,516.40 262.30,516.40 262.30,530.60" fill="none" stroke="#1e1e1e" stroke-width="1.2" stroke-linejoin="miter"/>
<polyline points="429.70,530.60 429.70,516.40 439.50,516.40 439.50,530.60" fill="none" stroke="#1e1e1e" stroke-width="1.2" stroke-linejoin="miter"/>
<polyline points="448.60,530.60 448.60,516.40 523.50,516.40 523.50,530.60" fill="none" stroke="#1e1e1e" stroke-width="1.2" stroke-linejoin="miter"/>
<text x="84.0" y="336.9" font-family="Liberation Sans" font-style="italic" font-size="10.5" fill="#555">U</text>
<text x="91.6" y="339.4" font-family="Liberation Sans" font-style="italic" font-size="7.2" fill="#666">M</text>
<text x="85.0" y="403.2" font-family="Liberation Sans" font-style="italic" font-size="10.5" fill="#555">I</text>
<text x="89.2" y="405.1" font-family="Liberation Sans" font-style="italic" font-size="7.2" fill="#666">M</text>
<text x="85.0" y="464.6" font-family="Liberation Sans" font-style="italic" font-size="10.5" fill="#555">I</text>
<text x="89.2" y="466.9" font-family="Liberation Sans" font-size="7.2" fill="#666">WR</text>
<text x="85.0" y="516.5" font-family="Liberation Sans" font-style="italic" font-size="10.5" fill="#555">I</text>
<text x="89.2" y="518.2" font-family="Liberation Sans" font-size="7.2" fill="#666">C</text></svg>
<div class="t hb" style="left:429.10px;top:67.99px;font-size:11px;letter-spacing:0px;">ГОСТ IEC/TS 60034-25—2017</div>
<div class="t cap" style="left:167.10px;top:274.51px;font-size:9.2px;">Рисунок 34 — Схема преобразователя с ШИМ-инвертором тока</div>
<div class="t cap" style="left:138.30px;top:605.71px;font-size:9.2px;">Рисунок 35 — Формы напряжений и токов системы с ШИМ-инвертором тока</div>
<div class="t leg" style="left:127.60px;top:571.10px;font-size:7.8px;"><i>U</i><sub>M</sub> — напряжение на двигателе; <i>I</i><sub>WR</sub> — ток в конденсаторе фильтра; <i>I</i><sub>M</sub> — ток в двигателе;</div>
<div class="t leg" style="left:253.00px;top:581.50px;font-size:7.8px;"><i>I</i><sub>C</sub> — ток на выходе инвертора</div>
<div class="t hb" style="left:76.40px;top:640.39px;font-size:11px;">15.2 Потери и их влияние</div>
<div class="j bd" style="left:75.60px;top:660.46px;font-size:10.8px;width:506.50px;letter-spacing:0.3px;">Из-за относительно низкого содержания высоких гармоник в напряжении и токе дополнитель-</div>
<div class="j bd" style="left:47.80px;top:673.66px;font-size:10.8px;width:534.30px;letter-spacing:0.3px;">ные потери в стали меньше, чем в машинах, питаемых от преобразователей с инверторами на-</div>
<div class="j bd" style="left:47.80px;top:686.86px;font-size:10.8px;width:534.30px;letter-spacing:0.3px;">пряжения. Не следует ожидать существенных коммутационных потерь. Дополнительные потери в</div>
<div class="j bd" style="left:47.80px;top:700.06px;font-size:10.8px;width:534.30px;letter-spacing:0.3px;">обмотке статора сопоставимы с потерями в машинах, питаемых от преобразователей с инверто-</div>
<div class="j bd" style="left:47.80px;top:713.26px;font-size:10.8px;width:534.30px;letter-spacing:0.3px;">рами напряжения, поэтому перемещение витков обычно не требуется (в отличие от утверждений</div>
<div class="t bd" style="left:47.80px;top:726.46px;font-size:10.8px;">в 13.2).</div>
<div class="j nt" style="left:76.30px;top:745.50px;font-size:9.8px;width:505.40px;"><span class="sp">Примечание</span> — Хотя напряжения гармоник ШИМ-инверторов тока ниже, чем таковые у ШИМ-инверторов</div>
<div class="j nt" style="left:47.60px;top:757.70px;font-size:9.8px;width:535.30px;">напряжения, их частоты также ниже. Поэтому невозможно дать общее суждение об относительных амплитудах то-</div>
<div class="t nt" style="left:47.60px;top:769.50px;font-size:9.8px;">ков гармоник.</div>
<div class="t bd" style="left:76.70px;top:787.96px;font-size:10.8px;">Утверждения 11.3.2 остаются в силе.</div>
<div class="t hb" style="left:76.40px;top:811.49px;font-size:11px;">15.3 Шум, вибрация и крутильные колебания</div>
<div class="t bd" style="left:76.70px;top:830.86px;font-size:10.8px;">Утверждения 11.4 остаются в силе.</div>
<div class="t bd" style="left:570.30px;top:850.13px;font-size:10px;letter-spacing:0;">47</div>

</body></html>
